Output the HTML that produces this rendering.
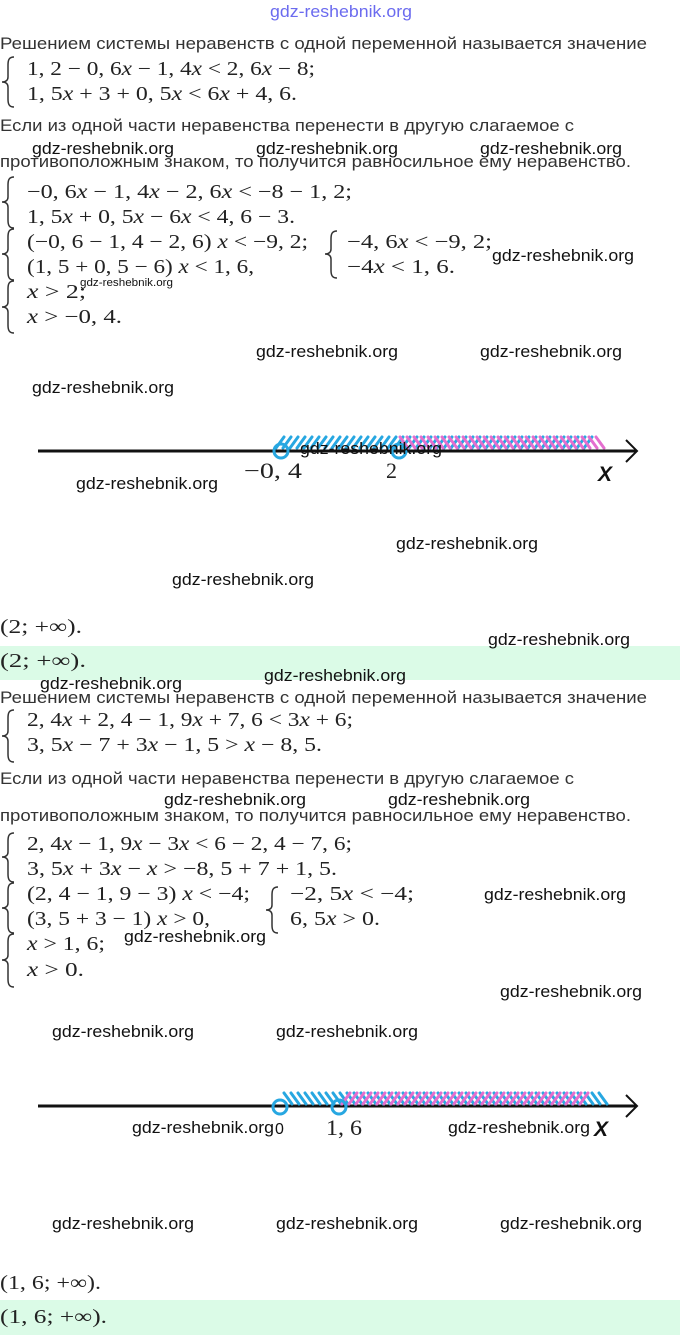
<!DOCTYPE html>
<html><head><meta charset="utf-8"><style>
html,body{margin:0;padding:0;background:#fff;}
svg{display:block;}
.r{font-family:"Liberation Sans",sans-serif;font-size:16.5px;fill:#333;}
.m{font-family:"Liberation Serif",serif;font-size:20px;fill:#222;}
.w{font-family:"Liberation Sans",sans-serif;font-size:17px;fill:#111;}
.i{font-style:italic;}
.br{fill:none;stroke:#333;stroke-width:1.5;}
</style></head><body>
<svg width="680" height="1335" viewBox="0 0 680 1335" xmlns="http://www.w3.org/2000/svg">
<rect x="0" y="0" width="680" height="1335" fill="#fff"/>
<rect x="0" y="646" width="680" height="34" fill="#dbfbe7"/>
<rect x="0" y="1300" width="680" height="35" fill="#dbfbe7"/>

<text x="270" y="17" font-family="Liberation Sans, sans-serif" font-size="17" fill="#6b6bef" textLength="142" lengthAdjust="spacingAndGlyphs">gdz-reshebnik.org</text>

<text class="r" x="0" y="49" textLength="647" lengthAdjust="spacingAndGlyphs">Решением системы неравенств с одной переменной называется значение</text>
<path class="br" d="M14 57 C9 57 8 60 8 65 L8 77 C8 80 6 82 2 82 C6 82 8 84 8 87 L8 99 C8 104 9 107 14 107"/>
<text class="m" x="27" y="75" textLength="288" lengthAdjust="spacingAndGlyphs">1, 2 − 0, 6<tspan class="i">x</tspan> − 1, 4<tspan class="i">x</tspan> &lt; 2, 6<tspan class="i">x</tspan> − 8;</text>
<text class="m" x="27" y="100" textLength="270" lengthAdjust="spacingAndGlyphs">1, 5<tspan class="i">x</tspan> + 3 + 0, 5<tspan class="i">x</tspan> &lt; 6<tspan class="i">x</tspan> + 4, 6.</text>
<text class="r" x="0" y="131" textLength="574" lengthAdjust="spacingAndGlyphs">Если из одной части неравенства перенести в другую слагаемое с</text>
<text class="r" x="0" y="167" textLength="631" lengthAdjust="spacingAndGlyphs">противоположным знаком, то получится равносильное ему неравенство.</text>

<path class="br" d="M14 177 C9 177 8 180 8 185 L8 197 C8 200 6 202 2 202 C6 202 8 204 8 207 L8 220 C8 225 9 228 14 228"/>
<path class="br" d="M14 229 C9 229 8 232 8 237 L8 249 C8 252 6 254 2 254 C6 254 8 256 8 259 L8 272 C8 277 9 280 14 280"/>
<path class="br" d="M14 281 C9 281 8 284 8 289 L8 302 C8 305 6 307 2 307 C6 307 8 309 8 312 L8 325 C8 330 9 333 14 333"/>
<path class="br" d="M337 231 C332 231 331 234 331 239 L331 249 C331 252 329 254 325 254 C329 254 331 256 331 259 L331 270 C331 275 332 278 337 278"/>
<text class="m" x="27" y="198" textLength="325" lengthAdjust="spacingAndGlyphs">−0, 6<tspan class="i">x</tspan> − 1, 4<tspan class="i">x</tspan> − 2, 6<tspan class="i">x</tspan> &lt; −8 − 1, 2;</text>
<text class="m" x="27" y="223" textLength="268" lengthAdjust="spacingAndGlyphs">1, 5<tspan class="i">x</tspan> + 0, 5<tspan class="i">x</tspan> − 6<tspan class="i">x</tspan> &lt; 4, 6 − 3.</text>
<text class="m" x="27" y="248" textLength="281" lengthAdjust="spacingAndGlyphs">(−0, 6 − 1, 4 − 2, 6) <tspan class="i">x</tspan> &lt; −9, 2;</text>
<text class="m" x="27" y="273" textLength="227" lengthAdjust="spacingAndGlyphs">(1, 5 + 0, 5 − 6) <tspan class="i">x</tspan> &lt; 1, 6,</text>
<text class="m" x="27" y="298" textLength="59" lengthAdjust="spacingAndGlyphs"><tspan class="i">x</tspan> &gt; 2;</text>
<text class="m" x="27" y="323" textLength="95" lengthAdjust="spacingAndGlyphs"><tspan class="i">x</tspan> &gt; −0, 4.</text>
<text class="m" x="347" y="248" textLength="145" lengthAdjust="spacingAndGlyphs">−4, 6<tspan class="i">x</tspan> &lt; −9, 2;</text>
<text class="m" x="347" y="273" textLength="108" lengthAdjust="spacingAndGlyphs">−4<tspan class="i">x</tspan> &lt; 1, 6.</text>

<!-- number line 1 -->
<line x1="38" y1="451" x2="636" y2="451" stroke="#111" stroke-width="3"/>
<polyline points="626,440 637,451 626,462" fill="none" stroke="#111" stroke-width="2"/>
<path fill="none" stroke="#27a7e1" stroke-width="3" stroke-linecap="round" d="M276 448 l8 -11m-1 11l8 -11m-1 11l8 -11m-1 11l8 -11m-1 11l8 -11m-1 11l8 -11m-1 11l8 -11m-1 11l8 -11m-1 11l8 -11m-1 11l8 -11m-1 11l8 -11m-1 11l8 -11m-1 11l8 -11m-1 11l8 -11m-1 11l8 -11m-1 11l8 -11m-1 11l8 -11m-1 11l8 -11m-1 11l8 -11m-1 11l8 -11m-1 11l8 -11m-1 11l8 -11m-1 11l8 -11m-1 11l8 -11m-1 11l8 -11m-1 11l8 -11m-1 11l8 -11m-1 11l8 -11m-1 11l8 -11m-1 11l8 -11m-1 11l8 -11m-1 11l8 -11m-1 11l8 -11m-1 11l8 -11m-1 11l8 -11m-1 11l8 -11m-1 11l8 -11m-1 11l8 -11m-1 11l8 -11m-1 11l8 -11m-1 11l8 -11m-1 11l8 -11m-1 11l8 -11m-1 11l8 -11m-1 11l8 -11m-1 11"/>
<path fill="none" stroke="#e46fcf" stroke-width="3" stroke-linecap="round" d="M400 437 l8 11m-1 -11l8 11m-1 -11l8 11m-1 -11l8 11m-1 -11l8 11m-1 -11l8 11m-1 -11l8 11m-1 -11l8 11m-1 -11l8 11m-1 -11l8 11m-1 -11l8 11m-1 -11l8 11m-1 -11l8 11m-1 -11l8 11m-1 -11l8 11m-1 -11l8 11m-1 -11l8 11m-1 -11l8 11m-1 -11l8 11m-1 -11l8 11m-1 -11l8 11m-1 -11l8 11m-1 -11l8 11m-1 -11l8 11m-1 -11l8 11m-1 -11l8 11m-1 -11l8 11m-1 -11l8 11m-1 -11l8 11m-1 -11"/>
<circle cx="281" cy="451" r="7" fill="none" stroke="#27a7e1" stroke-width="3"/>
<circle cx="399" cy="451" r="7" fill="none" stroke="#27a7e1" stroke-width="3"/>
<text x="244" y="478" font-family="Liberation Serif, serif" font-size="22" fill="#222" textLength="58" lengthAdjust="spacingAndGlyphs">−0, 4</text>
<text x="386" y="478" font-family="Liberation Serif, serif" font-size="22" fill="#222">2</text>
<text x="598" y="481" font-family="Liberation Sans, sans-serif" font-size="21" font-weight="bold" font-style="italic" fill="#111">X</text>

<text class="m" x="0" y="633" textLength="82" lengthAdjust="spacingAndGlyphs">(2; +∞).</text>
<text class="m" x="0" y="667" font-size="21" textLength="86" lengthAdjust="spacingAndGlyphs">(2; +∞).</text>

<text class="r" x="0" y="703" textLength="647" lengthAdjust="spacingAndGlyphs">Решением системы неравенств с одной переменной называется значение</text>
<path class="br" d="M14 710 C9 710 8 713 8 718 L8 731 C8 734 6 736 2 736 C6 736 8 738 8 741 L8 754 C8 759 9 762 14 762"/>
<text class="m" x="27" y="726" textLength="326" lengthAdjust="spacingAndGlyphs">2, 4<tspan class="i">x</tspan> + 2, 4 − 1, 9<tspan class="i">x</tspan> + 7, 6 &lt; 3<tspan class="i">x</tspan> + 6;</text>
<text class="m" x="27" y="751" textLength="295" lengthAdjust="spacingAndGlyphs">3, 5<tspan class="i">x</tspan> − 7 + 3<tspan class="i">x</tspan> − 1, 5 &gt; <tspan class="i">x</tspan> − 8, 5.</text>
<text class="r" x="0" y="784" textLength="574" lengthAdjust="spacingAndGlyphs">Если из одной части неравенства перенести в другую слагаемое с</text>
<text class="r" x="0" y="821" textLength="631" lengthAdjust="spacingAndGlyphs">противоположным знаком, то получится равносильное ему неравенство.</text>

<path class="br" d="M14 833 C9 833 8 836 8 841 L8 852 C8 855 6 857 2 857 C6 857 8 859 8 862 L8 874 C8 879 9 882 14 882"/>
<path class="br" d="M14 883 C9 883 8 886 8 891 L8 903 C8 906 6 908 2 908 C6 908 8 910 8 913 L8 925 C8 930 9 933 14 933"/>
<path class="br" d="M14 934 C9 934 8 937 8 942 L8 955 C8 958 6 960 2 960 C6 960 8 962 8 965 L8 979 C8 984 9 987 14 987"/>
<path class="br" d="M278 887 C273 887 272 890 272 895 L272 905 C272 908 270 910 266 910 C270 910 272 912 272 915 L272 925 C272 930 273 933 278 933"/>
<text class="m" x="27" y="850" textLength="325" lengthAdjust="spacingAndGlyphs">2, 4<tspan class="i">x</tspan> − 1, 9<tspan class="i">x</tspan> − 3<tspan class="i">x</tspan> &lt; 6 − 2, 4 − 7, 6;</text>
<text class="m" x="27" y="875" textLength="310" lengthAdjust="spacingAndGlyphs">3, 5<tspan class="i">x</tspan> + 3<tspan class="i">x</tspan> − <tspan class="i">x</tspan> &gt; −8, 5 + 7 + 1, 5.</text>
<text class="m" x="27" y="900" textLength="223" lengthAdjust="spacingAndGlyphs">(2, 4 − 1, 9 − 3) <tspan class="i">x</tspan> &lt; −4;</text>
<text class="m" x="27" y="925" textLength="183" lengthAdjust="spacingAndGlyphs">(3, 5 + 3 − 1) <tspan class="i">x</tspan> &gt; 0,</text>
<text class="m" x="27" y="950" textLength="78" lengthAdjust="spacingAndGlyphs"><tspan class="i">x</tspan> &gt; 1, 6;</text>
<text class="m" x="27" y="976" textLength="57" lengthAdjust="spacingAndGlyphs"><tspan class="i">x</tspan> &gt; 0.</text>
<text class="m" x="290" y="900" textLength="124" lengthAdjust="spacingAndGlyphs">−2, 5<tspan class="i">x</tspan> &lt; −4;</text>
<text class="m" x="290" y="925" textLength="90" lengthAdjust="spacingAndGlyphs">6, 5<tspan class="i">x</tspan> &gt; 0.</text>

<!-- number line 2 -->
<line x1="38" y1="1106" x2="636" y2="1106" stroke="#111" stroke-width="3"/>
<polyline points="626,1095 637,1106 626,1117" fill="none" stroke="#111" stroke-width="2"/>
<path fill="none" stroke="#27a7e1" stroke-width="3" stroke-linecap="round" d="M284 1093 l8 11m-1 -11l8 11m-1 -11l8 11m-1 -11l8 11m-1 -11l8 11m-1 -11l8 11m-1 -11l8 11m-1 -11l8 11m-1 -11l8 11m-1 -11l8 11m-1 -11l8 11m-1 -11l8 11m-1 -11l8 11m-1 -11l8 11m-1 -11l8 11m-1 -11l8 11m-1 -11l8 11m-1 -11l8 11m-1 -11l8 11m-1 -11l8 11m-1 -11l8 11m-1 -11l8 11m-1 -11l8 11m-1 -11l8 11m-1 -11l8 11m-1 -11l8 11m-1 -11l8 11m-1 -11l8 11m-1 -11l8 11m-1 -11l8 11m-1 -11l8 11m-1 -11l8 11m-1 -11l8 11m-1 -11l8 11m-1 -11l8 11m-1 -11l8 11m-1 -11l8 11m-1 -11l8 11m-1 -11l8 11m-1 -11l8 11m-1 -11l8 11m-1 -11l8 11m-1 -11l8 11m-1 -11l8 11m-1 -11l8 11m-1 -11l8 11m-1 -11"/>
<path fill="none" stroke="#e46fcf" stroke-width="3" stroke-linecap="round" d="M342 1104 l8 -11m-1 11l8 -11m-1 11l8 -11m-1 11l8 -11m-1 11l8 -11m-1 11l8 -11m-1 11l8 -11m-1 11l8 -11m-1 11l8 -11m-1 11l8 -11m-1 11l8 -11m-1 11l8 -11m-1 11l8 -11m-1 11l8 -11m-1 11l8 -11m-1 11l8 -11m-1 11l8 -11m-1 11l8 -11m-1 11l8 -11m-1 11l8 -11m-1 11l8 -11m-1 11l8 -11m-1 11l8 -11m-1 11l8 -11m-1 11l8 -11m-1 11l8 -11m-1 11l8 -11m-1 11l8 -11m-1 11l8 -11m-1 11l8 -11m-1 11l8 -11m-1 11l8 -11m-1 11l8 -11m-1 11l8 -11m-1 11l8 -11m-1 11"/>
<circle cx="280" cy="1107" r="7" fill="none" stroke="#27a7e1" stroke-width="3"/>
<circle cx="339" cy="1107" r="7" fill="none" stroke="#27a7e1" stroke-width="3"/>
<text x="275" y="1134" font-family="Liberation Sans, sans-serif" font-size="16" fill="#111">0</text>
<text x="326" y="1135" font-family="Liberation Serif, serif" font-size="22" fill="#222" textLength="36" lengthAdjust="spacingAndGlyphs">1, 6</text>
<text x="594" y="1136" font-family="Liberation Sans, sans-serif" font-size="21" font-weight="bold" font-style="italic" fill="#111">X</text>

<text class="m" x="0" y="1289" textLength="101" lengthAdjust="spacingAndGlyphs">(1, 6; +∞).</text>
<text class="m" x="0" y="1323" font-size="21" textLength="107" lengthAdjust="spacingAndGlyphs">(1, 6; +∞).</text>

<!-- watermarks -->
<g class="w">
<text x="32" y="154" textLength="142" lengthAdjust="spacingAndGlyphs">gdz-reshebnik.org</text>
<text x="256" y="154" textLength="142" lengthAdjust="spacingAndGlyphs">gdz-reshebnik.org</text>
<text x="480" y="154" textLength="142" lengthAdjust="spacingAndGlyphs">gdz-reshebnik.org</text>
<text x="80" y="286" font-size="11" textLength="93" lengthAdjust="spacingAndGlyphs">gdz-reshebnik.org</text>
<text x="492" y="261" textLength="142" lengthAdjust="spacingAndGlyphs">gdz-reshebnik.org</text>
<text x="256" y="357" textLength="142" lengthAdjust="spacingAndGlyphs">gdz-reshebnik.org</text>
<text x="480" y="357" textLength="142" lengthAdjust="spacingAndGlyphs">gdz-reshebnik.org</text>
<text x="32" y="393" textLength="142" lengthAdjust="spacingAndGlyphs">gdz-reshebnik.org</text>
<text x="300" y="454" textLength="142" lengthAdjust="spacingAndGlyphs">gdz-reshebnik.org</text>
<text x="76" y="489" textLength="142" lengthAdjust="spacingAndGlyphs">gdz-reshebnik.org</text>
<text x="396" y="549" textLength="142" lengthAdjust="spacingAndGlyphs">gdz-reshebnik.org</text>
<text x="172" y="585" textLength="142" lengthAdjust="spacingAndGlyphs">gdz-reshebnik.org</text>
<text x="488" y="645" textLength="142" lengthAdjust="spacingAndGlyphs">gdz-reshebnik.org</text>
<text x="264" y="681" textLength="142" lengthAdjust="spacingAndGlyphs">gdz-reshebnik.org</text>
<text x="40" y="689" textLength="142" lengthAdjust="spacingAndGlyphs">gdz-reshebnik.org</text>
<text x="164" y="805" textLength="142" lengthAdjust="spacingAndGlyphs">gdz-reshebnik.org</text>
<text x="388" y="805" textLength="142" lengthAdjust="spacingAndGlyphs">gdz-reshebnik.org</text>
<text x="484" y="900" textLength="142" lengthAdjust="spacingAndGlyphs">gdz-reshebnik.org</text>
<text x="124" y="942" textLength="142" lengthAdjust="spacingAndGlyphs">gdz-reshebnik.org</text>
<text x="500" y="997" textLength="142" lengthAdjust="spacingAndGlyphs">gdz-reshebnik.org</text>
<text x="52" y="1037" textLength="142" lengthAdjust="spacingAndGlyphs">gdz-reshebnik.org</text>
<text x="276" y="1037" textLength="142" lengthAdjust="spacingAndGlyphs">gdz-reshebnik.org</text>
<text x="132" y="1133" textLength="142" lengthAdjust="spacingAndGlyphs">gdz-reshebnik.org</text>
<text x="448" y="1133" textLength="142" lengthAdjust="spacingAndGlyphs">gdz-reshebnik.org</text>
<text x="52" y="1229" textLength="142" lengthAdjust="spacingAndGlyphs">gdz-reshebnik.org</text>
<text x="276" y="1229" textLength="142" lengthAdjust="spacingAndGlyphs">gdz-reshebnik.org</text>
<text x="500" y="1229" textLength="142" lengthAdjust="spacingAndGlyphs">gdz-reshebnik.org</text>
</g>
</svg>
</body></html>
